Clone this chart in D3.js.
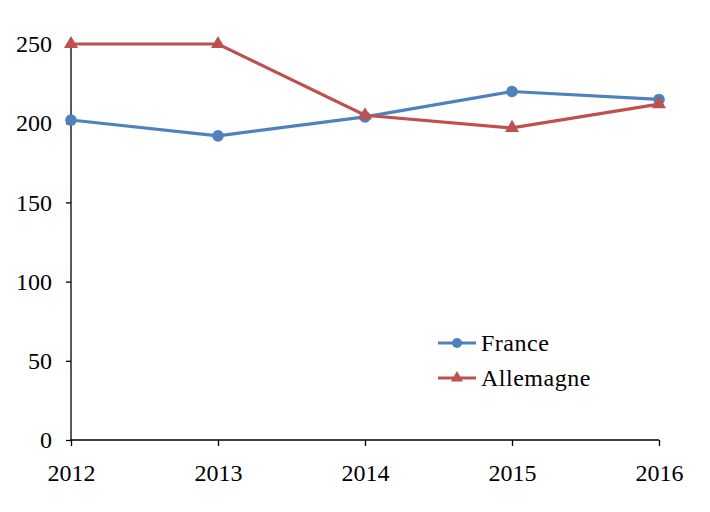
<!DOCTYPE html>
<html><head><meta charset="utf-8">
<script src="https://cdn.jsdelivr.net/npm/d3@7"></script>
<style>body{margin:0;background:#fff}text{font-family:"Liberation Serif","DejaVu Serif",serif}</style>
</head><body>
<svg id="c" width="710" height="512"></svg>
<script>
const years = ["2012","2013","2014","2015","2016"];
const france = [202, 192, 204, 220, 215];
const allemagne = [250, 250, 205, 197, 212];
const yTicks = [0, 50, 100, 150, 200, 250];
const seriesNames = ["France", "Allemagne"];
const colors = ["#4F81BD", "#C0504D"];

const svg = d3.select("#c");
const x = d3.scalePoint().domain(years).range([71, 659]);
const y = d3.scaleLinear().domain([0, 250]).range([440, 44]);

const yAxis = svg.append("g").attr("transform","translate(71,0)")
  .call(d3.axisLeft(y).tickValues(yTicks).tickSize(5).tickPadding(14));
const xAxis = svg.append("g").attr("transform","translate(0,440)")
  .call(d3.axisBottom(x).tickSize(6).tickPadding(18));
[yAxis, xAxis].forEach(a => {
  a.select(".domain").attr("stroke","#000").attr("stroke-width",1.3);
  a.selectAll(".tick line").attr("stroke","#000").attr("stroke-width",1.3);
  a.selectAll("text").attr("font-size",24).attr("fill","#000")
    .style("font-family",'"Liberation Serif","DejaVu Serif",serif');
});
yAxis.select(".domain").attr("d","M0,440V44");
xAxis.select(".domain").attr("d","M71,0H659");

const data = [france, allemagne];
const line = d3.line().x((d,i)=>x(years[i])).y(d=>y(d));
data.forEach((s,k)=>{
  svg.append("path").datum(s).attr("d",line).attr("fill","none")
    .attr("stroke",colors[k]).attr("stroke-width",3.2);
});
// markers
svg.selectAll(".fr").data(france).enter().append("circle")
  .attr("cx",(d,i)=>x(years[i])).attr("cy",d=>y(d)).attr("r",5.8).attr("fill",colors[0]);
const tri = d3.symbol().type(d3.symbolTriangle).size(85);
svg.selectAll(".de").data(allemagne).enter().append("path")
  .attr("d",tri).attr("transform",(d,i)=>`translate(${x(years[i])},${y(d)})`).attr("fill",colors[1]);

// legend
const leg = svg.append("g");
seriesNames.forEach((n,k)=>{
  const ly = 343 + k*35;
  leg.append("line").attr("x1",438).attr("x2",476).attr("y1",ly).attr("y2",ly)
    .attr("stroke",colors[k]).attr("stroke-width",3.2);
  if(k===0) leg.append("circle").attr("cx",457).attr("cy",ly).attr("r",5).attr("fill",colors[0]);
  else leg.append("path").attr("d",d3.symbol().type(d3.symbolTriangle).size(65)).attr("transform",`translate(457,${ly})`).attr("fill",colors[1]);
  leg.append("text").attr("x",481).attr("y",ly).attr("dy","0.35em").attr("font-size",24)
    .attr("letter-spacing",0.5).text(n);
});
</script>
</body></html>
